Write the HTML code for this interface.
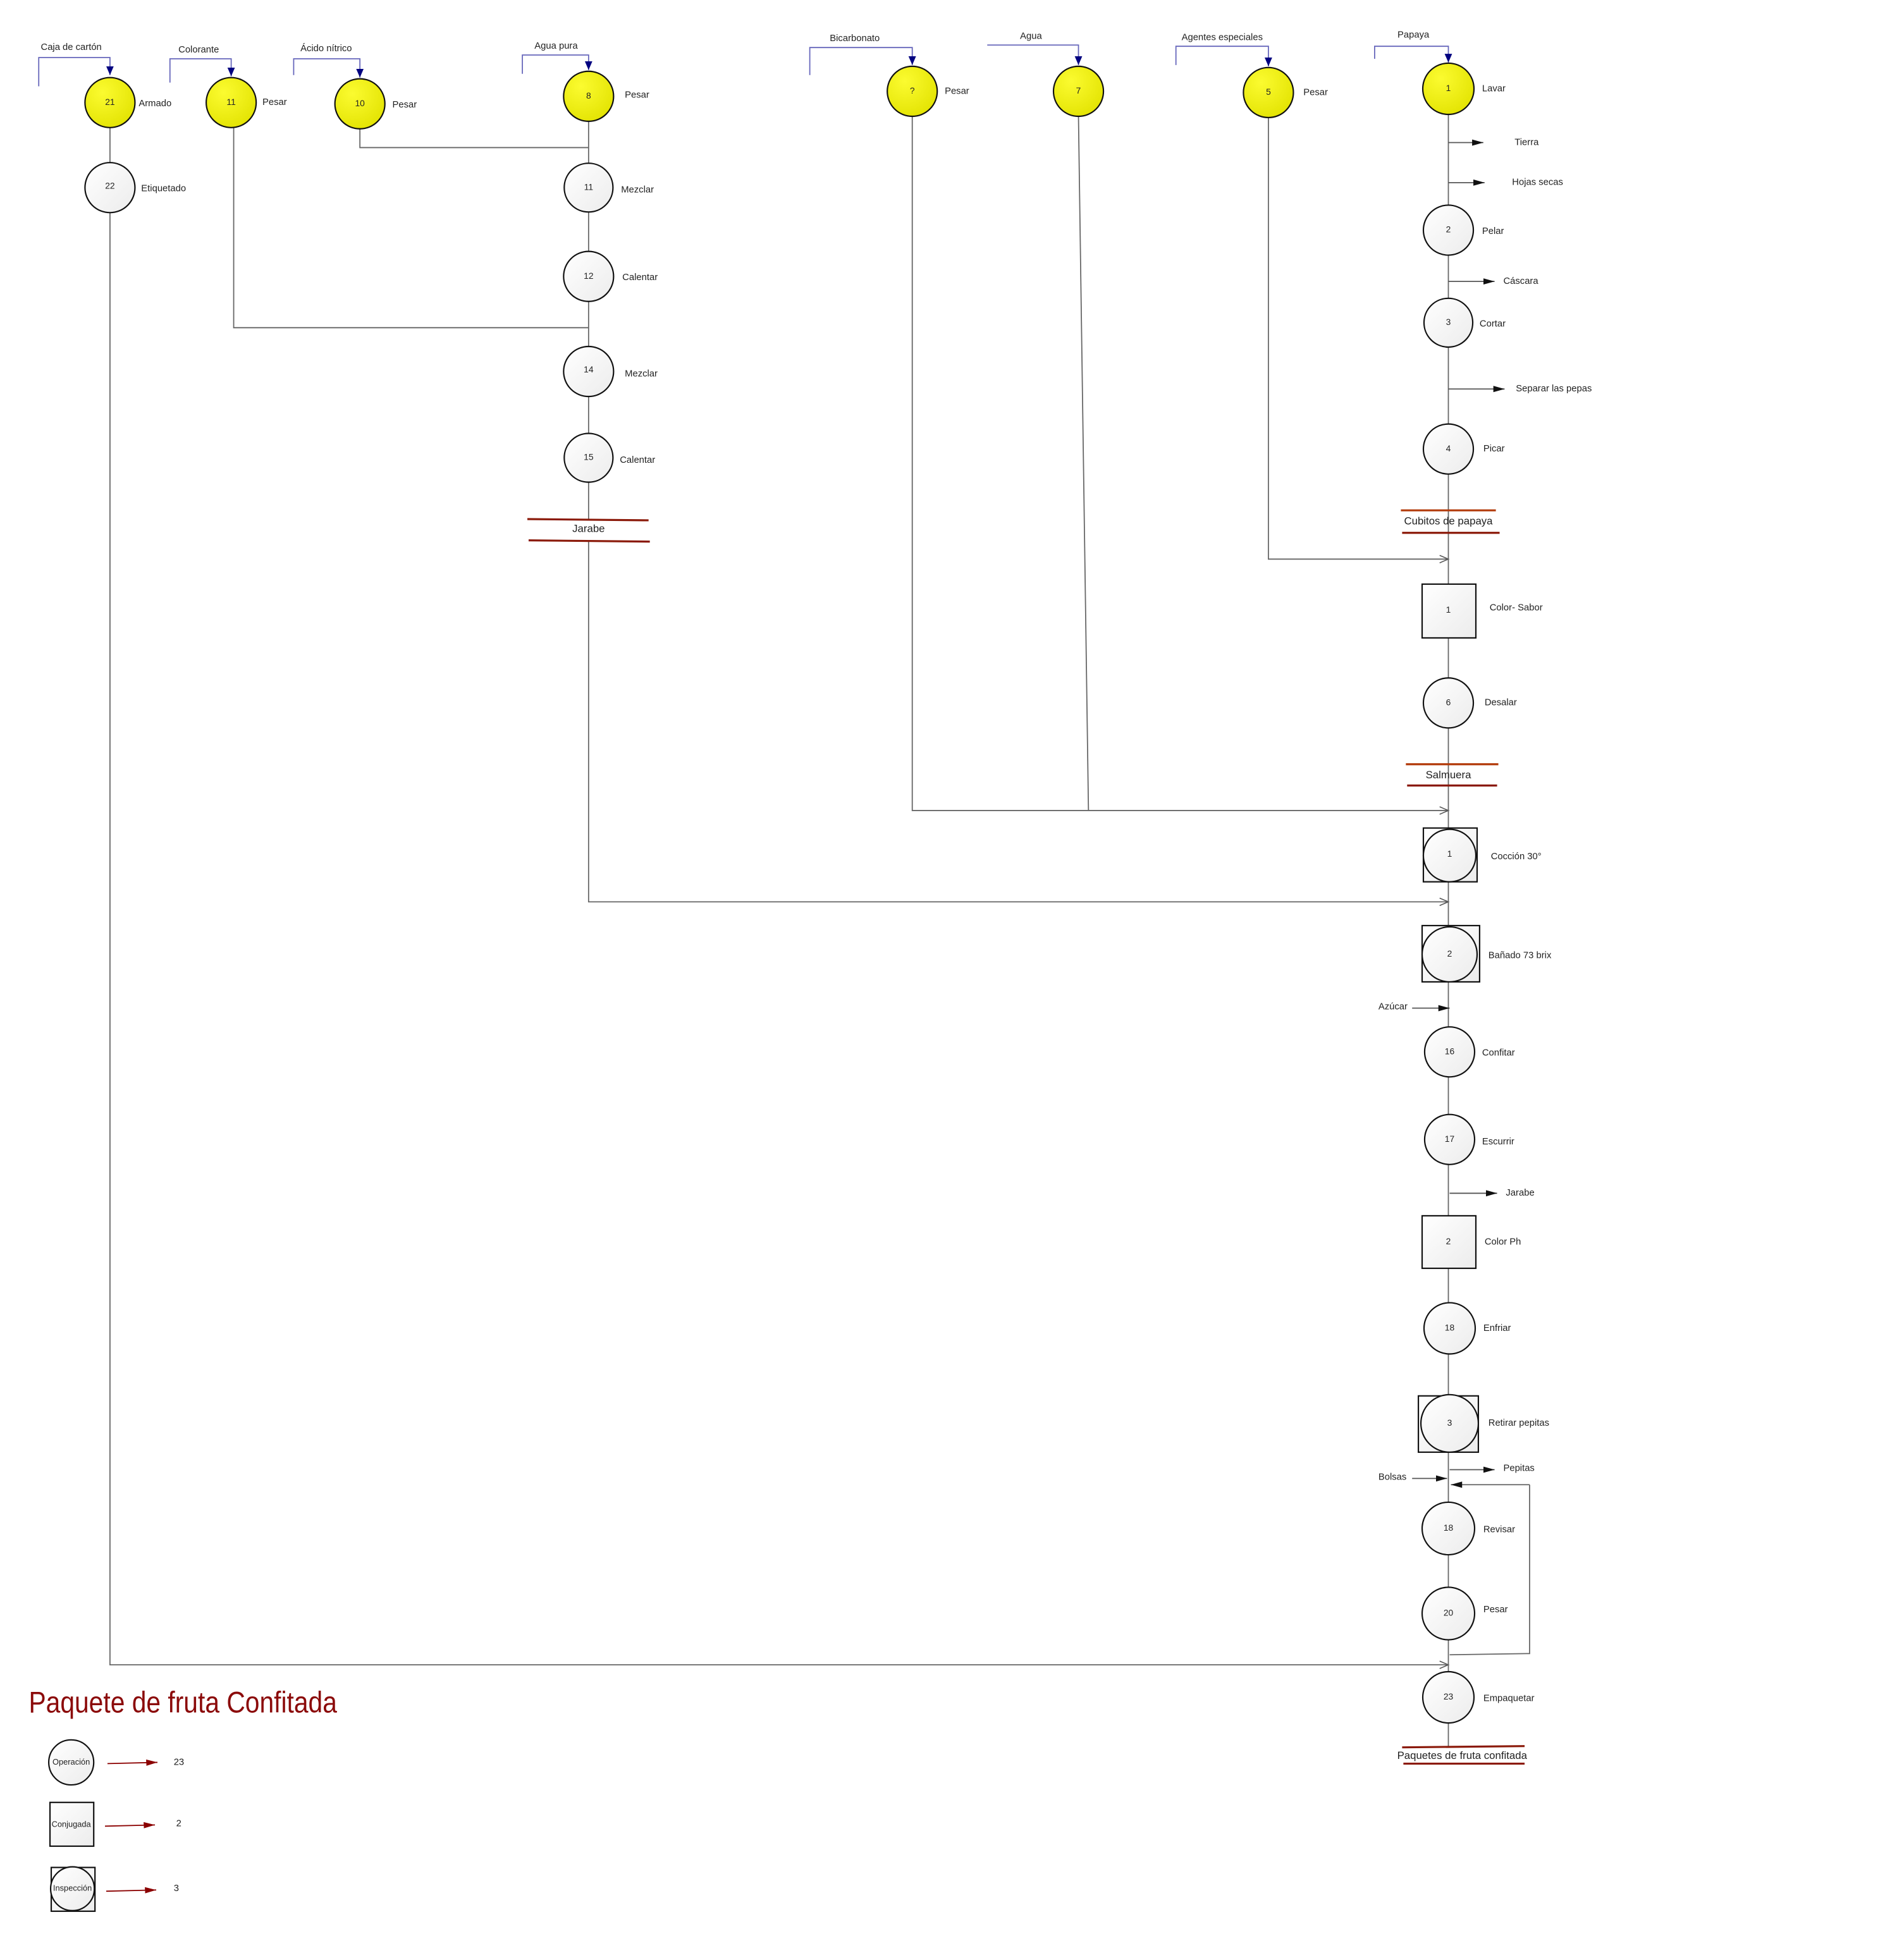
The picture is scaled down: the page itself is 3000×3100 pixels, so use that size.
<!DOCTYPE html>
<html><head><meta charset="utf-8"><style>
html,body{margin:0;padding:0;background:#fff;}
svg{display:block;}
text{font-family:"Liberation Sans",sans-serif;fill:#222;}
</style></head><body>
<svg width="3000" height="3100" viewBox="0 0 1518 1567" preserveAspectRatio="none" xmlns="http://www.w3.org/2000/svg">
<defs>
<radialGradient id="yel" cx="0.35" cy="0.3" r="0.8"><stop offset="0" stop-color="#fbfb30"/><stop offset="1" stop-color="#e2e200"/></radialGradient>
<linearGradient id="wh" x1="0" y1="0" x2="1" y2="1"><stop offset="0" stop-color="#ffffff"/><stop offset="1" stop-color="#ececec"/></linearGradient>
<marker id="blue" markerWidth="8" markerHeight="8" refX="7" refY="4" orient="auto" markerUnits="userSpaceOnUse"><path d="M0,1 L7,4 L0,7z" fill="#000080"/></marker>
<marker id="blk" markerWidth="10" markerHeight="8" refX="9" refY="4" orient="auto" markerUnits="userSpaceOnUse"><path d="M0,1.5 L9,4 L0,6.5z" fill="#111"/></marker>
<marker id="open" markerWidth="8" markerHeight="8" refX="7" refY="4" orient="auto" markerUnits="userSpaceOnUse"><path d="M0,1 L7,4 L0,7" fill="none" stroke="#555" stroke-width="0.8"/></marker>
<marker id="red" markerWidth="10" markerHeight="8" refX="9" refY="4" orient="auto" markerUnits="userSpaceOnUse"><path d="M0,1.5 L9,4 L0,6.5z" fill="#8b0000"/></marker>
</defs>

<g fill="none" stroke="#6666bb" stroke-width="0.9">
<path d="M31,69 V46 H88 V60" marker-end="url(#blue)"/>
<path d="M136,66 V47 H185 V61" marker-end="url(#blue)"/>
<path d="M235,60 V47 H288 V62" marker-end="url(#blue)"/>
<path d="M418,59 V44 H471 V56" marker-end="url(#blue)"/>
<path d="M648,60 V38 H730 V52" marker-end="url(#blue)"/>
<path d="M790,36 H863 V52" marker-end="url(#blue)"/>
<path d="M941,52 V37 H1015 V53" marker-end="url(#blue)"/>
<path d="M1100,47 V37 H1159 V50" marker-end="url(#blue)"/>
</g>

<g fill="none" stroke="#666" stroke-width="0.9">
<path d="M88,102 V130"/>
<path d="M88,170 V1331 H1159" marker-end="url(#open)"/>
<path d="M187,102 V262 H471"/>
<path d="M288,103 V118 H471"/>
<path d="M471,97 V415"/>
<path d="M471,432 V721 H1159" marker-end="url(#open)"/>
<path d="M730,93 V648 H1159" marker-end="url(#open)"/>
<path d="M863,93 L871,648"/>
<path d="M1015,94 V447 H1159" marker-end="url(#open)"/>
<path d="M1159,91 V1396"/>
<path d="M1224,1187 H1161" marker-end="url(#blk)"/>
<path d="M1224,1187 V1322 L1160,1323"/>
</g>
<g stroke="#555" stroke-width="0.9">
<line x1="1159" y1="114" x2="1187" y2="114" marker-end="url(#blk)"/>
<line x1="1159" y1="146" x2="1188" y2="146" marker-end="url(#blk)"/>
<line x1="1159" y1="225" x2="1196" y2="225" marker-end="url(#blk)"/>
<line x1="1159" y1="311" x2="1204" y2="311" marker-end="url(#blk)"/>
<line x1="1130" y1="806" x2="1160" y2="806" marker-end="url(#blk)"/>
<line x1="1160" y1="954" x2="1198" y2="954" marker-end="url(#blk)"/>
<line x1="1160" y1="1175" x2="1196" y2="1175" marker-end="url(#blk)"/>
<line x1="1130" y1="1182" x2="1158" y2="1182" marker-end="url(#blk)"/>
</g>

<g stroke="#8b1a0a" stroke-width="1.6">
<line x1="422" y1="415" x2="519" y2="416"/><line x1="423" y1="432" x2="520" y2="433"/>
<line x1="1121" y1="408" x2="1197" y2="408" stroke="#b23a0a"/><line x1="1122" y1="426" x2="1200" y2="426"/>
<line x1="1125" y1="611" x2="1199" y2="611" stroke="#b23a0a"/><line x1="1126" y1="628" x2="1198" y2="628"/>
<line x1="1122" y1="1397" x2="1220" y2="1396"/><line x1="1123" y1="1410" x2="1220" y2="1410"/>
</g>

<g stroke="#111" stroke-width="1.1">
<circle cx="88" cy="82" r="20" fill="url(#yel)"/>
<circle cx="185" cy="82" r="20" fill="url(#yel)"/>
<circle cx="288" cy="83" r="20" fill="url(#yel)"/>
<circle cx="471" cy="77" r="20" fill="url(#yel)"/>
<circle cx="730" cy="73" r="20" fill="url(#yel)"/>
<circle cx="863" cy="73" r="20" fill="url(#yel)"/>
<circle cx="1015" cy="74" r="20" fill="url(#yel)"/>
<circle cx="1159" cy="71" r="20.5" fill="url(#yel)"/>
<circle cx="88" cy="150" r="20" fill="url(#wh)"/>
<circle cx="471" cy="150" r="19.5" fill="url(#wh)"/>
<circle cx="471" cy="221" r="20" fill="url(#wh)"/>
<circle cx="471" cy="297" r="20" fill="url(#wh)"/>
<circle cx="471" cy="366" r="19.5" fill="url(#wh)"/>
<circle cx="1159" cy="184" r="20" fill="url(#wh)"/>
<circle cx="1159" cy="258" r="19.5" fill="url(#wh)"/>
<circle cx="1159" cy="359" r="20" fill="url(#wh)"/>
<rect x="1138" y="467" width="43" height="43" fill="url(#wh)"/>
<circle cx="1159" cy="562" r="20" fill="url(#wh)"/>
<rect x="1139" y="662" width="43" height="43" fill="url(#wh)"/>
<circle cx="1160" cy="684" r="21" fill="url(#wh)"/>
<rect x="1138" y="740" width="46" height="45" fill="url(#wh)"/>
<circle cx="1160" cy="763" r="22" fill="url(#wh)"/>
<circle cx="1160" cy="841" r="20" fill="url(#wh)"/>
<circle cx="1160" cy="911" r="20" fill="url(#wh)"/>
<rect x="1138" y="972" width="43" height="42" fill="url(#wh)"/>
<circle cx="1160" cy="1062" r="20.5" fill="url(#wh)"/>
<rect x="1135" y="1116" width="48" height="45" fill="url(#wh)"/>
<circle cx="1160" cy="1138" r="23" fill="url(#wh)"/>
<circle cx="1159" cy="1222" r="21" fill="url(#wh)"/>
<circle cx="1159" cy="1290" r="21" fill="url(#wh)"/>
<circle cx="1159" cy="1357" r="20.5" fill="url(#wh)"/>
<circle cx="57" cy="1409" r="18" fill="url(#wh)"/>
<rect x="40" y="1441" width="35" height="35" fill="url(#wh)"/>
<rect x="41" y="1493" width="35" height="35" fill="url(#wh)"/>
<circle cx="58" cy="1510" r="17.5" fill="url(#wh)"/>
</g>

<g font-size="7" text-anchor="middle" dominant-baseline="middle">
<text x="88" y="82">21</text><text x="185" y="82">11</text><text x="288" y="83">10</text><text x="471" y="77">8</text>
<text x="730" y="73">?</text><text x="863" y="73">7</text><text x="1015" y="74">5</text><text x="1159" y="71">1</text>
<text x="88" y="149">22</text><text x="471" y="150">11</text><text x="471" y="221">12</text><text x="471" y="296">14</text><text x="471" y="366">15</text>
<text x="1159" y="184">2</text><text x="1159" y="258">3</text><text x="1159" y="359">4</text><text x="1159" y="488">1</text>
<text x="1159" y="562">6</text><text x="1160" y="683">1</text><text x="1160" y="763">2</text><text x="1160" y="841">16</text>
<text x="1160" y="911">17</text><text x="1159" y="993">2</text><text x="1160" y="1062">18</text><text x="1160" y="1138">3</text>
<text x="1159" y="1222">18</text><text x="1159" y="1290">20</text><text x="1159" y="1357">23</text>
<text x="57" y="1409" font-size="6.5">Operación</text><text x="57" y="1459" font-size="6.5">Conjugada</text><text x="58" y="1510" font-size="6.5">Inspección</text>
</g>

<g font-size="7.5" dominant-baseline="middle">
<text x="57" y="38" text-anchor="middle">Caja de cartón</text>
<text x="159" y="40" text-anchor="middle">Colorante</text>
<text x="261" y="39" text-anchor="middle">Ácido nítrico</text>
<text x="445" y="37" text-anchor="middle">Agua pura</text>
<text x="684" y="31" text-anchor="middle">Bicarbonato</text>
<text x="825" y="29" text-anchor="middle">Agua</text>
<text x="978" y="30" text-anchor="middle">Agentes especiales</text>
<text x="1131" y="28" text-anchor="middle">Papaya</text>
<text x="111" y="83">Armado</text><text x="210" y="82">Pesar</text><text x="314" y="84">Pesar</text><text x="500" y="76">Pesar</text>
<text x="113" y="151">Etiquetado</text><text x="497" y="152">Mezclar</text><text x="498" y="222">Calentar</text><text x="500" y="299">Mezclar</text><text x="496" y="368">Calentar</text>
<text x="756" y="73">Pesar</text><text x="1043" y="74">Pesar</text><text x="1186" y="71">Lavar</text>
<text x="1212" y="114">Tierra</text><text x="1210" y="146">Hojas secas</text><text x="1186" y="185">Pelar</text>
<text x="1203" y="225">Cáscara</text><text x="1184" y="259">Cortar</text><text x="1213" y="311">Separar las pepas</text>
<text x="1187" y="359">Picar</text><text x="1192" y="486">Color- Sabor</text><text x="1188" y="562">Desalar</text>
<text x="1193" y="685">Cocción 30°</text><text x="1191" y="764">Bañado 73 brix</text><text x="1103" y="805">Azúcar</text>
<text x="1186" y="842">Confitar</text><text x="1186" y="913">Escurrir</text><text x="1205" y="954">Jarabe</text>
<text x="1188" y="993">Color Ph</text><text x="1187" y="1062">Enfriar</text><text x="1191" y="1138">Retirar pepitas</text>
<text x="1203" y="1174">Pepitas</text><text x="1103" y="1181">Bolsas</text><text x="1187" y="1223">Revisar</text>
<text x="1187" y="1287">Pesar</text><text x="1187" y="1358">Empaquetar</text>
<text x="139" y="1409">23</text><text x="141" y="1458">2</text><text x="139" y="1510">3</text>
</g>
<g font-size="8.5" text-anchor="middle" dominant-baseline="middle">
<text x="471" y="423">Jarabe</text><text x="1159" y="417">Cubitos de papaya</text><text x="1159" y="620">Salmuera</text>
<text x="1170" y="1404">Paquetes de fruta confitada</text>
</g>
<g stroke="#8b0000" stroke-width="0.9">
<line x1="86" y1="1410" x2="126" y2="1409" marker-end="url(#red)"/>
<line x1="84" y1="1460" x2="124" y2="1459" marker-end="url(#red)"/>
<line x1="85" y1="1512" x2="125" y2="1511" marker-end="url(#red)"/>
</g>
<text x="23" y="1369" font-size="24" style="fill:#8b0a0a" transform="translate(23,0) scale(0.86,1) translate(-23,0)">Paquete de fruta Confitada</text>
</svg>
</body></html>
